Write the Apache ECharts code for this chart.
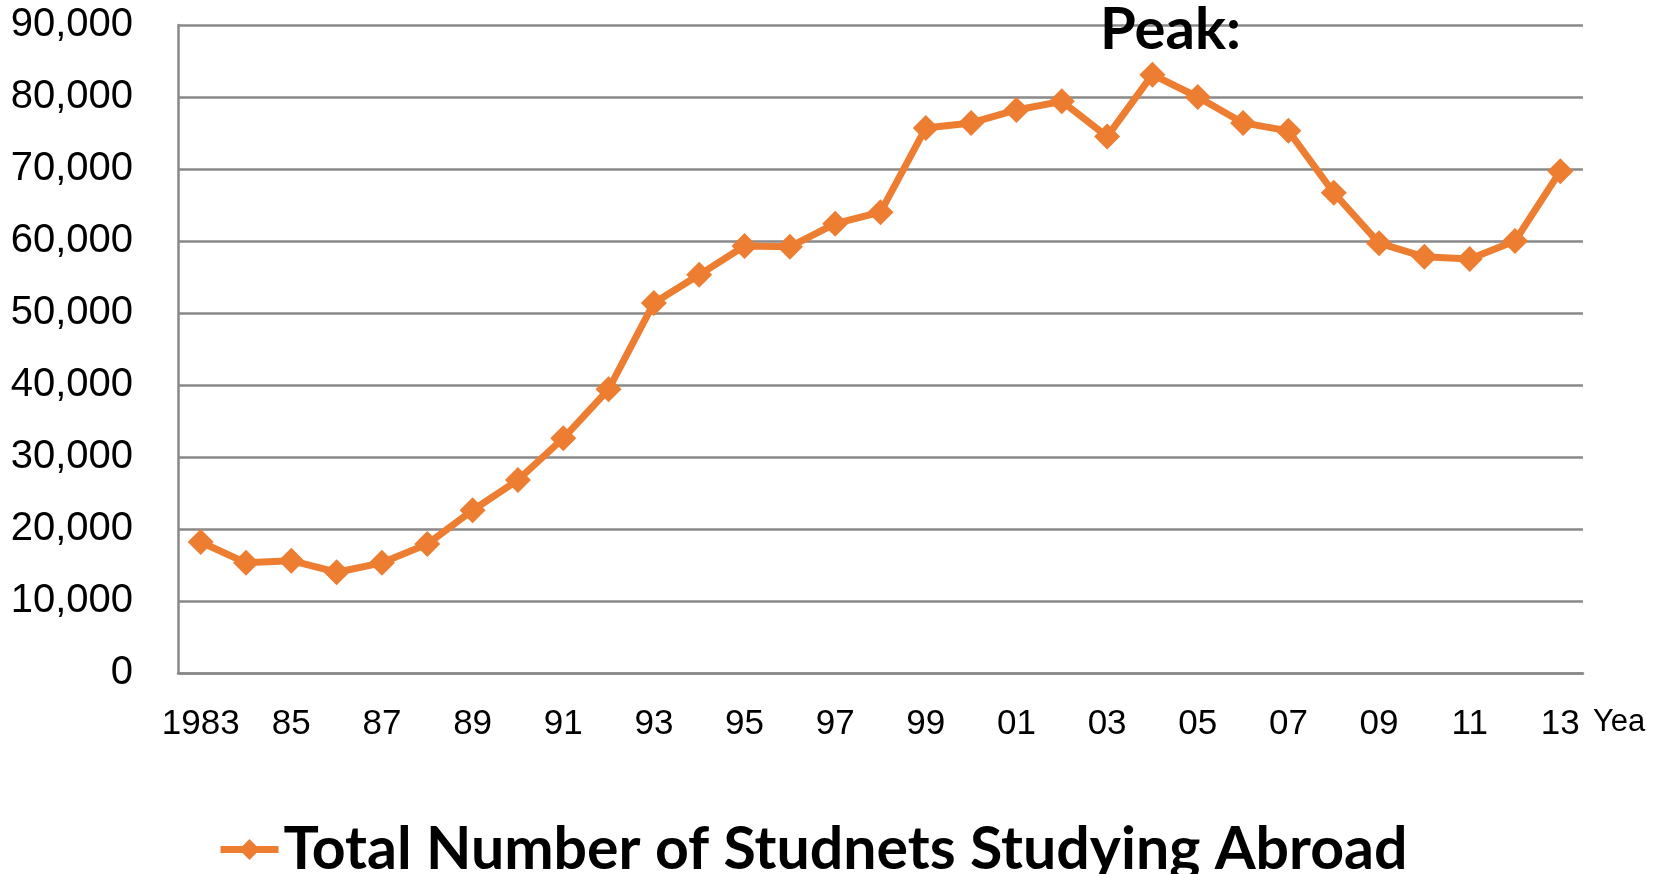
<!DOCTYPE html>
<html>
<head>
<meta charset="utf-8">
<title>Total Number of Studnets Studying Abroad</title>
<script src="https://cdn.jsdelivr.net/npm/echarts@6/dist/echarts.min.js"></script>
<style>
  html, body { margin: 0; padding: 0; background: #fff; }
  #chart { width: 1659px; height: 874px; }
</style>
</head>
<body>
<div id="chart"></div>
<script>
// years on the x axis (every other one gets a label)
const years = ['1983', '84', '85', '86', '87', '88', '89', '90', '91', '92',
  '93', '94', '95', '96', '97', '98', '99', '00', '01', '02',
  '03', '04', '05', '06', '07', '08', '09', '10', '11', '12', '13'];

// number of students studying abroad
const students = [18200, 15300, 15600, 14000, 15300, 17900, 22600, 26800, 32600, 39400,
  51400, 55300, 59300, 59200, 62400, 64000, 75700, 76400, 78200, 79400,
  74500, 83100, 80000, 76400, 75300, 66700, 59700, 57800, 57500, 60000, 69700];

const seriesName = 'Total Number of Studnets Studying Abroad';
const peakText = 'Peak:';
const axisName = 'Year';

const orange = '#ED7D31';
const gray = '#898989';
const tickFont = '"Liberation Sans Narrow", "Arial Narrow", "Liberation Sans", Arial, sans-serif';
const boldFont = 'Lato, "Open Sans", sans-serif';

const chart = echarts.init(document.getElementById('chart'));
const option = {
  animation: false,
  backgroundColor: '#ffffff',
  grid: {
    left: 178,
    right: 76,
    top: 25,
    bottom: 201,
  },
  legend: {
    data: [seriesName],
    left: 212,
    top: 815,
    itemWidth: 58,
    itemHeight: 26,
    itemGap: 6,
    lineStyle: { width: 7 },
    textStyle: {
      fontFamily: boldFont,
      fontWeight: 'bold',
      fontSize: 59,
      color: '#000',
    },
  },
  xAxis: {
    type: 'category',
    data: years,
    boundaryGap: true,
    name: axisName,
    nameLocation: 'end',
    nameGap: 10,
    nameTruncate: { maxWidth: 58, ellipsis: '' },
    nameTextStyle: {
      fontFamily: tickFont,
      fontSize: 31,
      color: '#000',
      verticalAlign: 'top',
      padding: [34, 0, 0, 0],
    },
    axisLine: {
      lineStyle: { color: gray, width: 2.5 },
    },
    axisTick: { show: false },
    axisLabel: {
      interval: 1,
      margin: 34,
      fontFamily: tickFont,
      fontSize: 35,
      color: '#000',
    },
    splitLine: { show: false },
  },
  yAxis: {
    type: 'value',
    min: 0,
    max: 90000,
    interval: 10000,
    axisLine: {
      show: true,
      lineStyle: { color: gray, width: 2.5 },
    },
    axisTick: { show: false },
    axisLabel: {
      margin: 45,
      fontFamily: tickFont,
      fontSize: 40,
      color: '#000',
      formatter: (v) => v.toLocaleString('en-US'),
    },
    splitLine: {
      show: true,
      lineStyle: { color: gray, width: 2.5 },
    },
  },
  series: [
    {
      name: seriesName,
      type: 'line',
      data: students,
      symbol: 'diamond',
      symbolSize: 26,
      color: orange,
      lineStyle: { color: orange, width: 7 },
      itemStyle: { color: orange },
      markPoint: {
        symbol: 'circle',
        symbolSize: 0,
        data: [{ type: 'max' }],
        label: {
          show: true,
          formatter: peakText,
          offset: [18, -44],
          fontFamily: boldFont,
          fontWeight: 'bold',
          fontSize: 58,
          color: '#000',
        },
      },
    },
  ],
};
chart.setOption(option);
window.addEventListener('resize', chart.resize);
</script>
</body>
</html>
